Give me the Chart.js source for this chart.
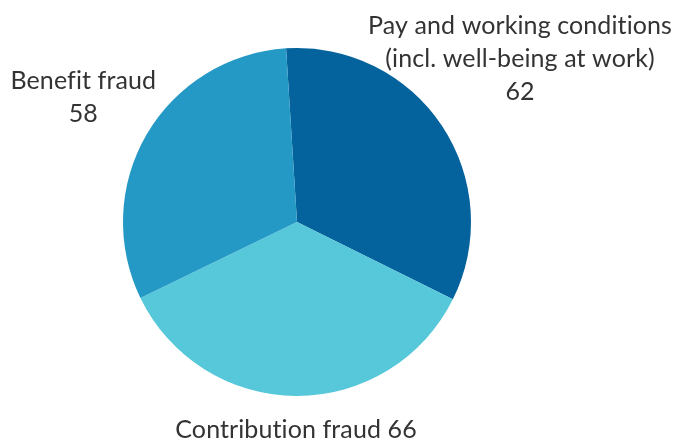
<!DOCTYPE html>
<html>
<head>
<meta charset="utf-8">
<script src="https://cdn.jsdelivr.net/npm/chart.js@4/dist/chart.umd.min.js"></script>
<style>
html,body{margin:0;padding:0;background:#fff;}
#wrap{width:690px;height:441px;position:relative;}
</style>
</head>
<body>
<div id="wrap"><canvas id="c" width="690" height="441"></canvas></div>
<script>
const categories = [
  ["Pay and working conditions", "(incl. well-being at work)"],
  ["Contribution fraud"],
  ["Benefit fraud"]
];
const values = [62, 66, 58];
const colors = ["#04629d", "#56c8da", "#2599c5"];

const labelPlugin = {
  id: "outLabels",
  afterDatasetsDraw(chart, args, opts) {
    const ctx = chart.ctx;
    const meta = chart.getDatasetMeta(0);
    ctx.save();
    ctx.font = opts.font;
    if ("letterSpacing" in ctx) ctx.letterSpacing = "0.1px";
    ctx.fillStyle = opts.color;
    ctx.textAlign = "center";
    ctx.textBaseline = "middle";
    meta.data.forEach((arc, i) => {
      const lines = categories[i].slice();
      if (opts.inline[i]) lines[lines.length - 1] += " " + values[i];
      else lines.push(String(values[i]));
      const lh = opts.lineHeight;
      const w = Math.max(...lines.map(l => ctx.measureText(l).width));
      const h = lines.length * lh;
      const mid = (arc.startAngle + arc.endAngle) / 2 + opts.nudge[i] * Math.PI / 180;
      const dx = Math.cos(mid), dy = Math.sin(mid);
      const off = Math.min(Math.abs(dx) > 1e-6 ? (w / 2) / Math.abs(dx) : Infinity,
                           Math.abs(dy) > 1e-6 ? (h / 2) / Math.abs(dy) : Infinity);
      const d = arc.outerRadius + opts.gaps[i] + off;
      const cx = arc.x + dx * d, cy = arc.y + dy * d;
      lines.forEach((l, k) => {
        ctx.fillText(l, cx, cy - h / 2 + lh / 2 + k * lh);
      });
    });
    ctx.restore();
  }
};

new Chart(document.getElementById("c"), {
  type: "pie",
  data: {
    labels: categories.map(c => c.join(" ")),
    datasets: [{
      data: values,
      backgroundColor: colors,
      borderWidth: 0,
      hoverOffset: 0
    }]
  },
  options: {
    responsive: false,
    animation: false,
    rotation: -3.6,
    layout: { padding: { left: 100, right: 196, top: 48, bottom: 45 } },
    plugins: {
      legend: { display: false },
      tooltip: { enabled: false },
      outLabels: {
        font: "25px Lato",
        color: "#333333",
        lineHeight: 33,
        gaps: [18, 17, 8],
        nudge: [-2.5, 0, 0],
        inline: [false, true, false]
      }
    }
  },
  plugins: [labelPlugin]
});
</script>
</body>
</html>
